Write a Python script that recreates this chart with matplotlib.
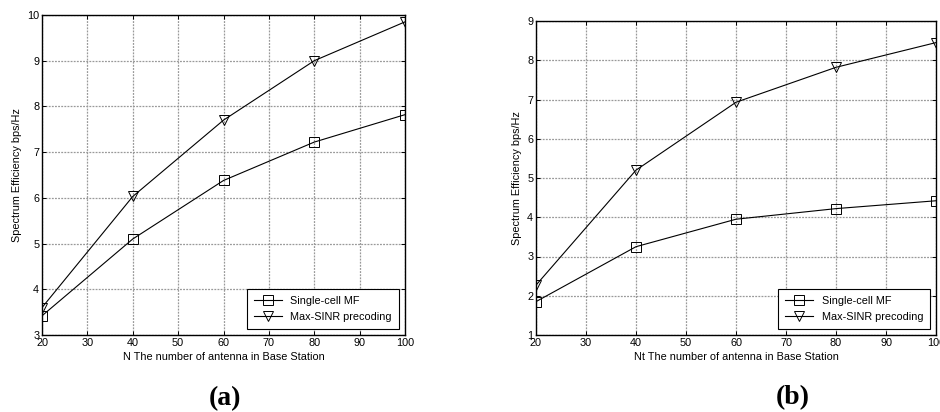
import matplotlib
matplotlib.use("Agg")
import matplotlib.pyplot as plt

x_vals = [20, 40, 60, 80, 100]
a_mf = [3.42, 5.10, 6.38, 7.22, 7.82]
a_sinr = [3.60, 6.03, 7.70, 9.00, 9.85]
b_mf = [1.85, 3.25, 3.95, 4.22, 4.42]
b_sinr = [2.27, 5.20, 6.93, 7.82, 8.45]
labels = ["Single-cell MF", "Max-SINR precoding"]

plt.rcParams['font.family'] = ['Liberation Sans', 'DejaVu Sans']

W, H = 940, 412
fig = plt.figure(figsize=(W/100, H/100), dpi=100)

def make_ax(l, r, t, b):
    return fig.add_axes([l/W, 1 - b/H, (r-l)/W, (b-t)/H])

def style(ax, ylim, yticks, xlabel):
    ax.set_xlim(20, 100)
    ax.set_ylim(*ylim)
    ax.set_xticks(range(20, 101, 10))
    ax.set_yticks(yticks)
    ax.grid(True, color='#999999', linestyle=(0, (1.5, 1)), linewidth=0.9)
    ax.tick_params(direction='in', top=True, right=True, labelsize=7.8, length=3, width=0.7, pad=2)
    for s in ax.spines.values():
        s.set_linewidth(1.0)
    ax.set_xlabel(xlabel, fontsize=7.8, labelpad=3)
    ax.set_ylabel("Spectrum Efficiency bps/Hz", fontsize=7.8, labelpad=4)

def legend(ax):
    leg = ax.legend(loc='lower right', fontsize=7.8, fancybox=False, edgecolor='black',
                    framealpha=1, borderaxespad=0.6, handlelength=2.6, borderpad=0.6,
                    labelspacing=0.6)
    leg.get_frame().set_linewidth(0.8)
    return leg

mk = dict(mfc='none', ms=6.5, lw=0.8, mew=0.7, color='k')

ax1 = make_ax(42, 405, 15, 335)
ax1.plot(x_vals, a_mf, '-', marker='s', label=labels[0], **mk)
ax1.plot(x_vals, a_sinr, '-', marker='v', label=labels[1], **mk)
style(ax1, (3, 10), range(3, 11), "N The number of antenna in Base Station")
legend(ax1)

ax2 = make_ax(536, 936, 21, 335)
ax2.plot(x_vals, b_mf, '-', marker='s', label=labels[0], **mk)
ax2.plot(x_vals, b_sinr, '-', marker='v', label=labels[1], **mk)
style(ax2, (1, 9), range(1, 10), "Nt The number of antenna in Base Station")
legend(ax2)

fig.text(225/W, 1 - 399/H, "(a)", fontsize=20, fontweight='bold',
         family=['Liberation Serif', 'DejaVu Serif'], ha='center', va='center')
fig.text(793/W, 1 - 398/H, "(b)", fontsize=20, fontweight='bold',
         family=['Liberation Serif', 'DejaVu Serif'], ha='center', va='center')

fig.savefig("out.png", dpi=100)
